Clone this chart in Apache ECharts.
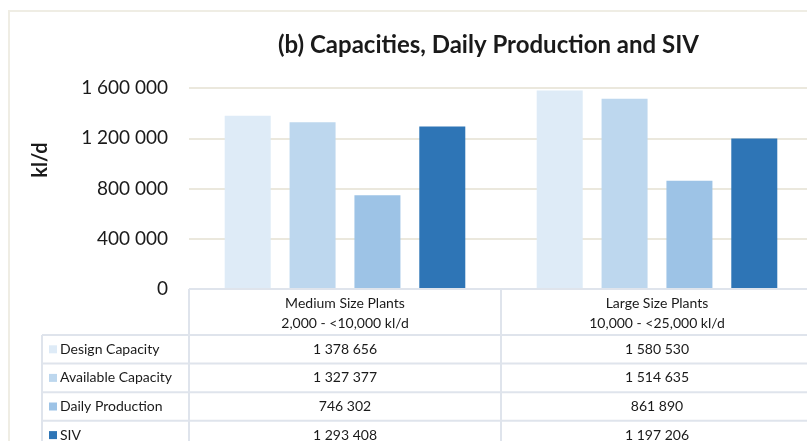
<!DOCTYPE html>
<html>
<head>
<meta charset="utf-8">
<script src="https://cdn.jsdelivr.net/npm/echarts@6/dist/echarts.min.js"></script>
<style>
  html, body { margin: 0; padding: 0; background: #fff; }
  #chart { width: 807px; height: 441px; }
</style>
</head>
<body>
<div id="chart"></div>
<script>
// data
const categories = ["Medium Size Plants\n2,000 - <10,000 kl/d", "Large Size Plants\n10,000 - <25,000 kl/d"];
const seriesNames = ["Design Capacity", "Available Capacity", "Daily Production", "SIV"];
const designCapacity = [1378656, 1580530];
const availableCapacity = [1327377, 1514635];
const dailyProduction = [746302, 861890];
const siv = [1293408, 1197206];
const yMax = 1600000;
const yStep = 400000;

const seriesValues = [designCapacity, availableCapacity, dailyProduction, siv];
const colors = ["#deebf7", "#bdd7ee", "#9dc3e6", "#2e75b6"];

// layout
const gridLeft = 189, gridTop = 88, gridHeight = 201, gridWidth = 624;
const colW = gridWidth / categories.length;
const headerBottom = 335, rowH = 28.6;
const tableLeft = 42;
const lineColor = "#dfe4ec";
const textColor = "#1a1a1a";
const font = "Lato, 'Open Sans', sans-serif";

function fmt(v) {
  return String(v).replace(/\B(?=(\d{3})+(?!\d))/g, " ");
}

const chart = echarts.init(document.getElementById("chart"));

function hLine(x1, x2, y) {
  return { type: "line", silent: true, z: 10,
    shape: { x1: x1, y1: y, x2: x2, y2: y },
    style: { stroke: lineColor, lineWidth: 2 } };
}
function vLine(x, y1, y2) {
  return { type: "line", silent: true, z: 10,
    shape: { x1: x, y1: y1, x2: x, y2: y2 },
    style: { stroke: lineColor, lineWidth: 2 } };
}

const tableBottom = headerBottom + rowH * seriesNames.length;
const right = gridLeft + gridWidth;
const graphics = [
  // outer chart border
  { type: "rect", silent: true, shape: { x: 9, y: 11, width: 830, height: 460 },
    style: { fill: null, stroke: "#efede4", lineWidth: 2 } },
  // axis title
  { type: "text", x: 41, y: 160, rotation: Math.PI / 2,
    style: { text: "kl/d", font: "bold 20px " + font, fill: textColor,
      align: "center", verticalAlign: "middle" } },
  hLine(gridLeft, right, gridTop + gridHeight),
  vLine(gridLeft, gridTop + gridHeight, tableBottom + 2),
  vLine(tableLeft, headerBottom, tableBottom + 2),
];
for (let c = 1; c < categories.length; c++) {
  graphics.push(vLine(gridLeft + colW * c, gridTop + gridHeight, tableBottom + 2));
}
for (let r = 0; r <= seriesNames.length; r++) {
  graphics.push(hLine(tableLeft, right, headerBottom + rowH * r));
}
categories.forEach(function (cat, c) {
  graphics.push({ type: "text", z: 11,
    x: gridLeft + colW * (c + 0.5), y: (gridTop + gridHeight + headerBottom) / 2 + 1,
    style: { text: cat, font: "14px " + font, fill: textColor, lineHeight: 20,
      align: "center", verticalAlign: "middle" } });
});
seriesNames.forEach(function (name, r) {
  const cy = headerBottom + rowH * (r + 0.5);
  graphics.push({ type: "rect", z: 11, shape: { x: 49, y: cy - 4, width: 8, height: 8 },
    style: { fill: colors[r] } });
  graphics.push({ type: "text", z: 11, x: 60, y: cy,
    style: { text: name, font: "14px " + font, fill: textColor,
      align: "left", verticalAlign: "middle" } });
  seriesValues[r].forEach(function (v, c) {
    graphics.push({ type: "text", z: 11, x: gridLeft + colW * (c + 0.5), y: cy,
      style: { text: fmt(v), font: "14px " + font, fill: textColor,
        align: "center", verticalAlign: "middle" } });
  });
});

chart.setOption({
  animation: false,
  textStyle: { fontFamily: font },
  title: {
    text: "(b) Capacities, Daily Production and SIV",
    left: 273,
    top: 28,
    textStyle: { fontSize: 24, fontWeight: "bold", color: textColor, fontFamily: font },
  },
  grid: {
    left: gridLeft,
    top: gridTop,
    width: gridWidth,
    height: gridHeight,
    outerBoundsMode: "none",
  },
  xAxis: {
    type: "category",
    data: categories,
    axisLine: { show: false },
    axisTick: { show: false },
    axisLabel: { show: false },
  },
  yAxis: {
    type: "value",
    min: 0,
    max: yMax,
    interval: yStep,
    axisLine: { show: false },
    axisTick: { show: false },
    axisLabel: {
      formatter: fmt,
      fontSize: 19,
      color: textColor,
      margin: 21,
    },
    splitLine: { lineStyle: { color: "#ebe8dd", width: 2 } },
  },
  series: seriesNames.map(function (name, i) {
    return {
      name: name,
      type: "bar",
      data: seriesValues[i],
      barWidth: 46,
      barGap: "41%",
      itemStyle: { color: colors[i] },
    };
  }),
  graphic: graphics,
});

window.addEventListener("resize", () => {
  chart.resize();
});
</script>
</body>
</html>
